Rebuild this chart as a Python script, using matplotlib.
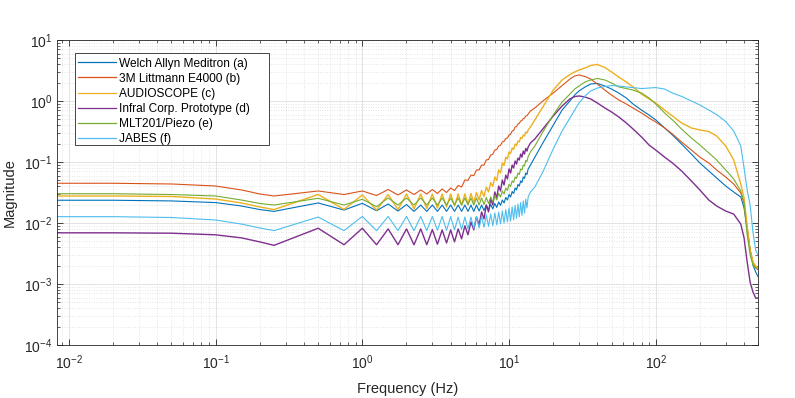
import numpy as np
import matplotlib
matplotlib.use("Agg")
import matplotlib.pyplot as plt
from matplotlib.patches import Rectangle
from matplotlib.ticker import LogLocator, NullFormatter

plt.rcParams['font.family'] = ['Liberation Sans', 'DejaVu Sans']

# ---------------- data ----------------
freq_hz = [0.00833, 0.02, 0.05, 0.1, 0.15, 0.2,
           0.25, 0.5, 0.75, 1.0, 1.25, 1.5, 1.75, 2.0,
           2.25, 2.5, 2.75, 3.0, 3.25, 3.5, 3.75, 4.0,
           4.25, 4.5, 4.75, 5.0, 5.25, 5.5, 5.75, 6.0,
           6.25, 6.5, 6.75, 7.0, 7.25, 7.5, 7.75, 8.0,
           8.25, 8.5, 8.75, 9.0, 9.25, 9.5, 9.75, 10.0,
           10.25, 10.5, 10.75, 11.0, 11.25, 11.5, 11.75, 12.0,
           12.25, 12.5, 12.75, 13.0, 13.25, 13.5,
           14, 15, 17, 20, 23, 26, 28, 30, 33, 36, 40, 45, 50, 56, 63, 70, 80, 90,
           100, 115, 130, 150, 175, 200, 230, 260, 300, 340, 380, 400, 420, 440,
           460, 480, 500]

mag_welch_allyn = [0.0236, 0.0236, 0.0230, 0.0216, 0.0190, 0.0166,
                   0.0155, 0.0213, 0.0163, 0.0210, 0.0159, 0.0205, 0.0157, 0.0201,
                   0.0155, 0.0197, 0.0155, 0.0197, 0.0155, 0.0197, 0.0155, 0.0197,
                   0.0155, 0.0197, 0.0155, 0.0197, 0.0155, 0.0197, 0.0155, 0.0197,
                   0.0157, 0.0197, 0.0160, 0.0197, 0.0163, 0.0201, 0.0170, 0.0209,
                   0.0180, 0.0221, 0.0194, 0.0238, 0.0213, 0.0262, 0.0238, 0.0293,
                   0.0267, 0.0328, 0.0305, 0.0375, 0.0348, 0.0428, 0.0404, 0.0489,
                   0.0461, 0.0568, 0.0537, 0.0660, 0.0624, 0.0768,
                   0.089, 0.120, 0.205, 0.40, 0.71, 1.0, 1.25, 1.46, 1.70, 1.90, 1.94,
                   1.76, 1.57, 1.35, 1.12, 0.893, 0.71, 0.59, 0.49, 0.361, 0.277, 0.197,
                   0.135, 0.0963, 0.0712, 0.0547, 0.0404, 0.0322, 0.0267, 0.0176,
                   0.00828, 0.0036, 0.00205, 0.00157, 0.0013]

mag_littmann = [0.0448, 0.0448, 0.0436, 0.0404, 0.0348, 0.0299,
                0.0277, 0.0335, 0.0293, 0.0335, 0.0282, 0.0354, 0.0288, 0.0348,
                0.0293, 0.0348, 0.0299, 0.0354, 0.0305, 0.0361, 0.0316, 0.0375,
                0.0341, 0.0412, 0.0389, 0.0507, 0.0500, 0.0610, 0.0600, 0.0740,
                0.0740, 0.0890, 0.0890, 0.108, 0.110, 0.130, 0.134, 0.157,
                0.160, 0.183, 0.188, 0.213, 0.218, 0.243, 0.247, 0.277,
                0.285, 0.322, 0.330, 0.375, 0.380, 0.420, 0.430, 0.470,
                0.477, 0.517, 0.524, 0.568, 0.575, 0.612,
                0.686, 0.768, 1.0, 1.35, 1.79, 2.29, 2.57, 2.67, 2.52, 2.29, 1.90,
                1.51, 1.25, 1.04, 0.893, 0.768, 0.636, 0.526, 0.453, 0.361, 0.288,
                0.213, 0.157, 0.120, 0.0963, 0.074, 0.0568, 0.0436, 0.031, 0.0213,
                0.0077, 0.0036, 0.0023, 0.00183, 0.0017]

mag_audioscope = [0.0277, 0.0277, 0.0272, 0.0247, 0.0213, 0.0183,
                  0.0166, 0.0293, 0.0167, 0.0288, 0.0163, 0.0293, 0.0166, 0.0299,
                  0.0170, 0.0299, 0.0173, 0.0299, 0.0176, 0.0299, 0.0183, 0.0299,
                  0.0190, 0.0299, 0.0197, 0.0299, 0.0205, 0.0305, 0.0217, 0.0316,
                  0.0238, 0.0341, 0.0272, 0.0389, 0.0322, 0.0461, 0.0397, 0.0568,
                  0.0497, 0.0740, 0.0660, 0.0963, 0.0877, 0.120, 0.112, 0.146,
                  0.138, 0.170, 0.160, 0.197, 0.186, 0.221, 0.213, 0.252,
                  0.243, 0.277, 0.267, 0.310, 0.299, 0.335,
                  0.375, 0.49, 0.797, 1.51, 2.21, 2.72, 2.99, 3.22, 3.48, 3.82, 3.97,
                  3.54, 2.99, 2.47, 2.05, 1.70, 1.30, 1.08, 0.927, 0.71, 0.568, 0.436,
                  0.361, 0.335, 0.316, 0.267, 0.183, 0.108, 0.0436, 0.0257,
                  0.0089, 0.0036, 0.0023, 0.00197, 0.00183]

mag_infral = [0.0069, 0.0069, 0.0068, 0.0064, 0.0057, 0.0049,
              0.0043, 0.0082, 0.0044, 0.0082, 0.0044, 0.0080, 0.0044, 0.0080,
              0.0044, 0.0080, 0.0044, 0.0078, 0.0045, 0.0077, 0.0047, 0.0077,
              0.0049, 0.0080, 0.0055, 0.0090, 0.0064, 0.0104, 0.0077, 0.0126,
              0.0093, 0.0152, 0.0117, 0.0197, 0.0152, 0.0248, 0.0197, 0.0323,
              0.0257, 0.0404, 0.0335, 0.0507, 0.0420, 0.0610, 0.0527, 0.0769,
              0.0660, 0.0890, 0.0798, 0.104, 0.0927, 0.116, 0.108, 0.135,
              0.120, 0.151, 0.135, 0.167, 0.151, 0.176,
              0.205, 0.239, 0.348, 0.568, 0.828, 1.08, 1.18, 1.21, 1.16, 1.08, 0.927,
              0.768, 0.66, 0.547, 0.436, 0.348, 0.257, 0.19, 0.157, 0.120, 0.0963,
              0.0714, 0.0488, 0.0348, 0.0238, 0.019, 0.0157, 0.014, 0.0096, 0.0057,
              0.0023, 0.00107, 0.00074, 0.00059, 0.00059]

mag_mlt201 = [0.0302, 0.0302, 0.0293, 0.0277, 0.0238, 0.0209,
              0.0197, 0.0254, 0.0197, 0.0245, 0.0185, 0.0257, 0.0197, 0.0257,
              0.0197, 0.0257, 0.0197, 0.0257, 0.0197, 0.0257, 0.0197, 0.0257,
              0.0197, 0.0257, 0.0197, 0.0257, 0.0197, 0.0257, 0.0197, 0.0257,
              0.0197, 0.0257, 0.0201, 0.0262, 0.0209, 0.0267, 0.0221, 0.0282,
              0.0238, 0.0305, 0.0267, 0.0335, 0.0299, 0.0375, 0.0341, 0.0428,
              0.0397, 0.0489, 0.0461, 0.0568, 0.0537, 0.0660, 0.0624, 0.0768,
              0.0740, 0.0890, 0.0860, 0.106, 0.102, 0.123,
              0.146, 0.183, 0.31, 0.59, 0.963, 1.30, 1.57, 1.76, 2.05, 2.21, 2.34,
              2.21, 1.97, 1.70, 1.60, 1.51, 1.35, 1.12, 0.893, 0.636, 0.49, 0.347,
              0.247, 0.19, 0.141, 0.108, 0.074, 0.0526, 0.0335, 0.0213,
              0.0064, 0.0030, 0.00205, 0.00183, 0.00183]

mag_jabes = [0.0127, 0.0127, 0.0123, 0.0112, 0.0096, 0.0083,
             0.0075, 0.0125, 0.0075, 0.0128, 0.0075, 0.0128, 0.0075, 0.0128,
             0.0075, 0.0128, 0.0075, 0.0128, 0.0076, 0.0128, 0.0076, 0.0127,
             0.0077, 0.0125, 0.0078, 0.0125, 0.0080, 0.0125, 0.0081, 0.0128,
             0.0083, 0.0130, 0.0085, 0.0135, 0.0088, 0.0141, 0.0090, 0.0146,
             0.0093, 0.0151, 0.0097, 0.0157, 0.0100, 0.0166, 0.0104, 0.0176,
             0.0108, 0.0183, 0.0113, 0.0194, 0.0119, 0.0205, 0.0126, 0.0217,
             0.0133, 0.0230, 0.0145, 0.0247, 0.0176, 0.0267,
             0.0322, 0.0389, 0.0686, 0.163, 0.322, 0.526, 0.71, 0.927, 1.21, 1.46, 1.63,
             1.73, 1.79, 1.76, 1.70, 1.66, 1.60, 1.63, 1.66, 1.57, 1.35, 1.19,
             1.0, 0.86, 0.71, 0.601, 0.461, 0.322, 0.183, 0.0798,
             0.0348, 0.0197, 0.0071, 0.0036, 0.00288]

series_labels = ['Welch Allyn Meditron (a)', '3M Littmann E4000 (b)', 'AUDIOSCOPE (c)',
                 'Infral Corp. Prototype (d)', 'MLT201/Piezo (e)', 'JABES (f)']
series_values = [mag_welch_allyn, mag_littmann, mag_audioscope,
                 mag_infral, mag_mlt201, mag_jabes]

# ---------------- styling ----------------
colors = ['#0072BD', '#D95319', '#EDB120', '#7E2F8E', '#77AC30', '#4DBEEE']
widths = [0.8, 0.8, 1.0, 1.0, 0.8, 0.8]

W, H = 795, 398
fig = plt.figure(figsize=(W / 100, H / 100), dpi=100)
ax = fig.add_axes([0.0721, 0.1332, 0.8817, 0.7663])

for lab, vals, c, w in zip(series_labels, series_values, colors, widths):
    ax.plot(freq_hz, vals, color=c, lw=w, label=lab)

ax.set_xscale('log')
ax.set_yscale('log')
ax.set_xlim(1 / 120, 500)
ax.set_ylim(1e-4, 10)

ax.xaxis.set_major_locator(LogLocator(base=10, numticks=20))
ax.yaxis.set_major_locator(LogLocator(base=10, numticks=20))
ax.xaxis.set_minor_locator(LogLocator(base=10, subs=np.arange(2, 10), numticks=100))
ax.yaxis.set_minor_locator(LogLocator(base=10, subs=np.arange(2, 10), numticks=100))
ax.xaxis.set_minor_formatter(NullFormatter())
ax.yaxis.set_minor_formatter(NullFormatter())

ax.grid(True, which='major', color='#dedede', lw=0.6, ls='-')
ax.grid(True, which='minor', color='#cfcfcf', lw=0.5, ls=(0, (1, 2.5)))
ax.set_axisbelow(True)

ax.tick_params(which='both', direction='in', top=True, right=True,
               colors='#262626', labelsize=10)
ax.tick_params(axis='x', which='major', pad=6)
ax.tick_params(which='major', length=4, width=0.6)
ax.tick_params(which='minor', length=2.5, width=0.5)
for s in ax.spines.values():
    s.set_color('#262626')
    s.set_linewidth(0.6)

ax.set_xlabel('Frequency (Hz)', fontsize=10.5, color='#262626', labelpad=7)
ax.set_ylabel('Magnitude', fontsize=10.5, color='#262626', labelpad=5)

# legend frame (MATLAB-like box with extra right padding)
frame = Rectangle((75 / W, 1 - 145 / H), 194 / W, 92.3 / H, transform=fig.transFigure,
                  facecolor='white', edgecolor='#262626', lw=0.6, zorder=9,
                  clip_on=False)
ax.add_patch(frame)

leg = ax.legend(loc='upper left', bbox_to_anchor=(78 / W, 1 - 57.5 / H),
                bbox_transform=fig.transFigure, fontsize=8.6, frameon=False,
                handlelength=3.2, handletextpad=0.25, labelspacing=0.26,
                borderpad=0.0, borderaxespad=0)
leg.set_zorder(10)
for line in leg.get_lines():
    line.set_linewidth(0.9)

fig.savefig('out.png', dpi=100)
